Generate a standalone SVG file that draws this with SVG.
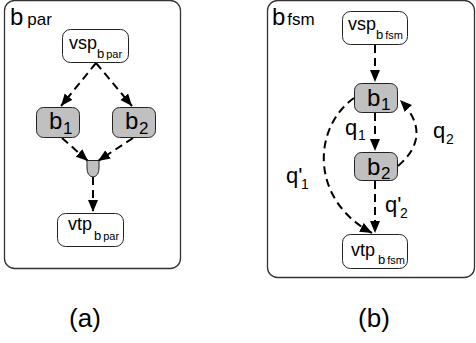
<svg xmlns="http://www.w3.org/2000/svg" width="476" height="343" viewBox="0 0 476 343">
<defs>
<marker id="ah" markerUnits="userSpaceOnUse" markerWidth="14" markerHeight="12" refX="12" refY="5" orient="auto">
<path d="M0,0 L12,5 L0,10 Z" fill="#000"/>
</marker>
<style>
.frame{fill:#fff;stroke:#333;stroke-width:1.3}
.node{fill:#fff;stroke:#222;stroke-width:1}
.gnode{fill:#c0c0c0;stroke:#222;stroke-width:1}
.edge{fill:none;stroke:#000;stroke-width:2;stroke-dasharray:8,5;marker-end:url(#ah)}
text{font-family:"Liberation Sans",Arial,sans-serif;fill:#000}
.t{font-size:18px}
.s{font-size:13px}
.ss{font-size:11px}
.b{font-size:24px}
.bs{font-size:17px}
.fl{font-size:24px}
.fs{font-size:17px}
.q{font-size:22px}
.qs{font-size:14px}
.cap{font-size:26px}
</style>
</defs>
<rect width="476" height="343" fill="#fff"/>
<g id="frame-a"><rect class="frame" x="4.5" y="0.5" width="176" height="268" rx="10"/>
<text x="10" y="25"><tspan class="fl">b</tspan><tspan class="fs" dx="4">par</tspan></text></g>
<g id="frame-b"><rect class="frame" x="267.5" y="0.5" width="207" height="277" rx="10"/>
<text x="272" y="25"><tspan class="fl">b</tspan><tspan class="fs" dx="2">fsm</tspan></text></g>
<g id="connectors">
<path class="edge" d="M96,63 L61,106"/>
<path class="edge" d="M96,63 L132,106"/>
<path class="edge" d="M62,138 L88,161"/>
<path class="edge" d="M133,138 L98,161"/>
<path class="edge" d="M93,177 L93,212"/>
<path class="edge" d="M375,45 L375,82"/>
<path class="edge" d="M375,113 L375,151"/>
<path class="edge" d="M398,166 Q434,135 400,100"/>
<path class="edge" d="M354,98 C312,128 310,200 372,233"/>
<path class="edge" d="M375,181 L375,233"/>
</g>
<g id="vsp-a"><rect class="node" x="62.5" y="29.5" width="66" height="33" rx="8"/>
<text x="69" y="49"><tspan class="t">vsp</tspan></text>
<text x="97" y="58"><tspan class="s">b</tspan><tspan class="ss" dx="2">par</tspan></text></g>
<g id="b1-a"><rect class="gnode" x="36.5" y="107.5" width="43" height="30" rx="7"/>
<text x="49" y="129"><tspan class="b">b</tspan></text><text x="63" y="134"><tspan class="bs">1</tspan></text></g>
<g id="b2-a"><rect class="gnode" x="112.5" y="107.5" width="43" height="30" rx="7"/>
<text x="125" y="129"><tspan class="b">b</tspan></text><text x="139" y="134"><tspan class="bs">2</tspan></text></g>
<g id="join-a"><path class="gnode" d="M87,160.5 H99 V168 Q99,176 93,177 Q87,176 87,168 Z"/></g>
<g id="vtp-a"><rect class="node" x="57.5" y="213.5" width="66" height="33" rx="8"/>
<text x="68" y="230"><tspan class="t">vtp</tspan></text>
<text x="94" y="240"><tspan class="s">b</tspan><tspan class="ss" dx="2">par</tspan></text></g>
<g id="vsp-b"><rect class="node" x="342.5" y="11.5" width="65" height="33" rx="8"/>
<text x="348" y="30"><tspan class="t">vsp</tspan></text>
<text x="376" y="39"><tspan class="s">b</tspan><tspan class="ss" dx="2">fsm</tspan></text></g>
<g id="b1-b"><rect class="gnode" x="354.5" y="83.5" width="43" height="29" rx="7"/>
<text x="367" y="106"><tspan class="b">b</tspan></text><text x="381" y="110"><tspan class="bs">1</tspan></text></g>
<g id="b2-b"><rect class="gnode" x="354.5" y="152.5" width="43" height="28" rx="7"/>
<text x="367" y="175"><tspan class="b">b</tspan></text><text x="381" y="179"><tspan class="bs">2</tspan></text></g>
<g id="vtp-b"><rect class="node" x="342.5" y="234.5" width="65" height="34" rx="8"/>
<text x="351" y="256"><tspan class="t">vtp</tspan></text>
<text x="378" y="264"><tspan class="s">b</tspan><tspan class="ss" dx="2">fsm</tspan></text></g>
<g id="labels">
<text x="345" y="135"><tspan class="q">q</tspan></text><text x="358" y="140"><tspan class="qs">1</tspan></text>
<text x="433" y="138"><tspan class="q">q</tspan></text><text x="446" y="144"><tspan class="qs">2</tspan></text>
<text x="286" y="183"><tspan class="q">q'</tspan></text><text x="301" y="189"><tspan class="qs">1</tspan></text>
<text x="385" y="212"><tspan class="q">q'</tspan></text><text x="400" y="218"><tspan class="qs">2</tspan></text>
<text x="85" y="327" text-anchor="middle" class="cap">(a)</text>
<text x="374" y="327" text-anchor="middle" class="cap">(b)</text>
</g>
</svg>
